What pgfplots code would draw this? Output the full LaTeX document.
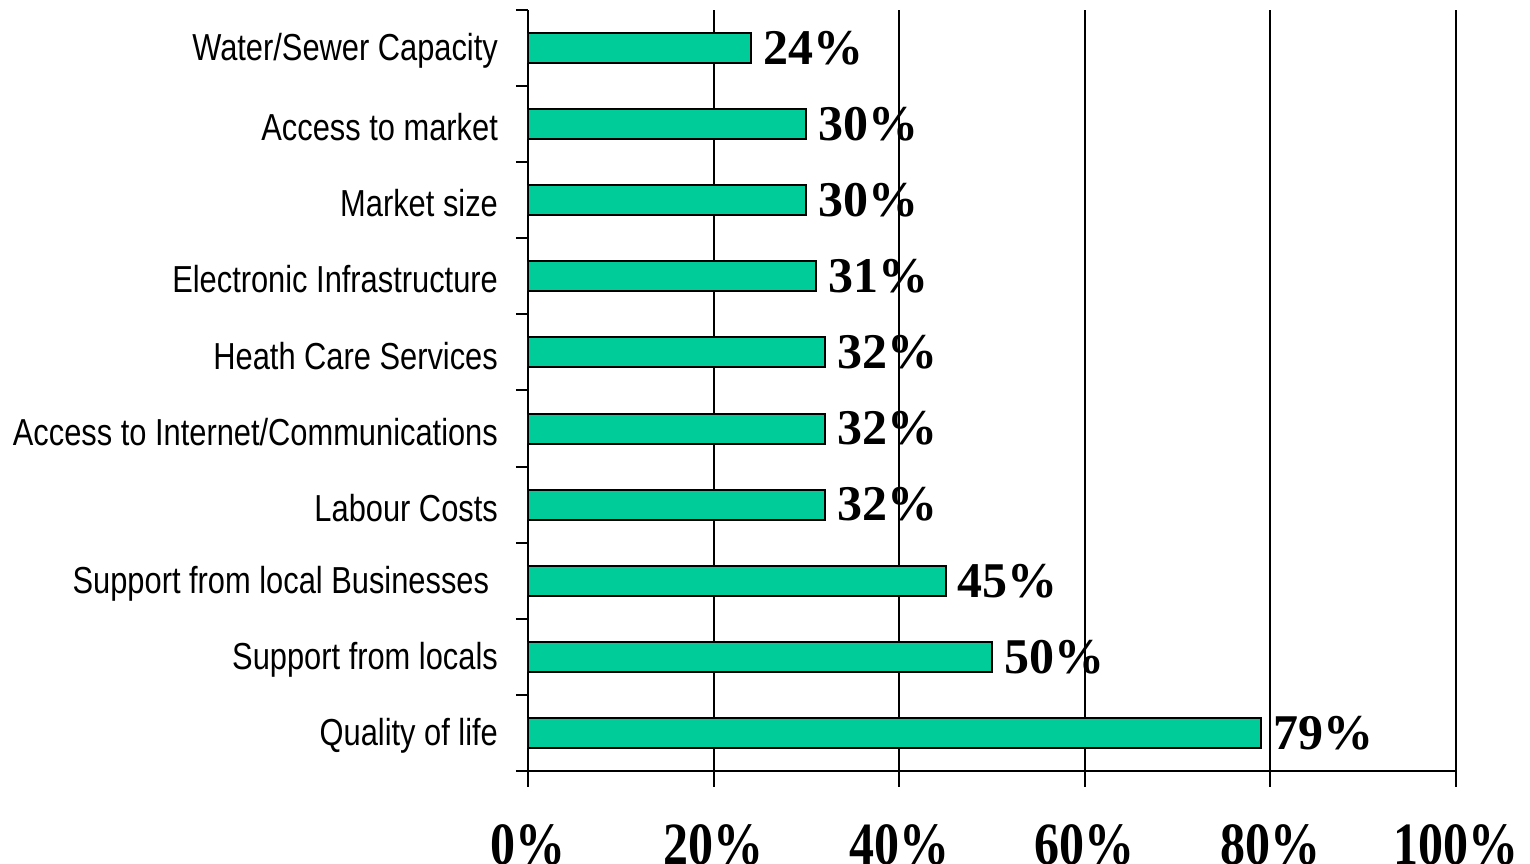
\documentclass[border=0pt]{standalone}
\usepackage{fontspec}
\usepackage{graphicx}
\usepackage{pgfplots}
\pgfplotsset{compat=1.18}
\setmainfont{Liberation Serif}
\newfontfamily\narrowsans[FakeStretch=0.82]{Liberation Sans}
\definecolor{barfill}{HTML}{00CC99}
\newcommand{\tallpct}[1]{\scalebox{1}[1.2]{#1\%}}

\begin{document}
\begin{tikzpicture}
\path[use as bounding box] (-132pt,-23.25pt) rectangle (250.5pt,192.75pt);
\begin{axis}[
    at={(0,0)}, anchor=south west,
    scale only axis,
    width=232pt, height=190.25pt,
    xbar, bar width=7.5pt,
    xmin=0, xmax=100,
    ymin=-0.5, ymax=9.5,
    axis lines*=left,
    axis line style={-, line width=0.5pt},
    xtick={0,20,...,100},
    xticklabels={\tallpct{0},\tallpct{20},\tallpct{40},\tallpct{60},\tallpct{80},\tallpct{100}},
    xticklabel style={font=\bfseries\fontsize{12.5}{12.5}\selectfont, yshift=-5.8pt},
    ytick={0,...,9},
    yticklabels={Quality of life, Support from locals,
        Support from local Businesses\hspace*{2.2pt}, Labour Costs,
        Access to Internet/Communications, Heath Care Services,
        Electronic Infrastructure, Market size, Access to market,
        Water/Sewer Capacity},
    yticklabel style={font=\narrowsans\fontsize{9.4}{9.4}\selectfont, yshift=-0.8pt},
    minor ytick={-0.5,0.5,...,9.5},
    major y tick style={draw=none},
    tick align=outside,
    major tick length=4pt, minor tick length=3pt,
    tick style={black, line width=0.5pt},
    xmajorgrids,
    grid style={black, line width=0.5pt},
    point meta=x,
    nodes near coords={\pgfmathprintnumber{\pgfplotspointmeta}\%},
    every node near coord/.append style={font=\bfseries\fontsize{12.5}{12.5}\selectfont, anchor=west, xshift=-0.5pt},
    /pgf/number format/assume math mode=true,
]
\addplot[fill=barfill, draw=black, line width=0.5pt] coordinates {
    (79,0) (50,1) (45,2) (32,3) (32,4) (32,5) (31,6) (30,7) (30,8) (24,9)
};
\end{axis}
\end{tikzpicture}
\end{document}
